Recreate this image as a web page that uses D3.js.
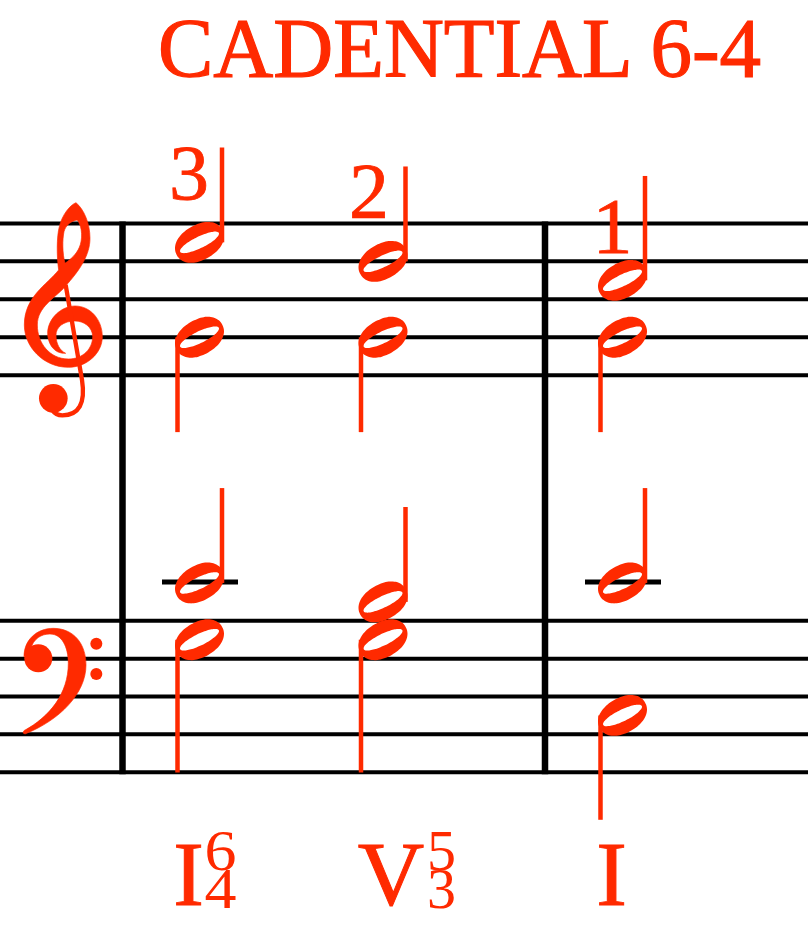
<!DOCTYPE html>
<html>
<head>
<meta charset="utf-8">
<title>Cadential 6-4</title>
<script src="https://cdnjs.cloudflare.com/ajax/libs/d3/7.8.5/d3.min.js"></script>
<style>
  html, body { margin: 0; padding: 0; background: #fff; }
  svg { display: block; }
  text { font-family: "Liberation Serif", serif; }
</style>
</head>
<body>
<div id="visualization"></div>
<script>
////////////////////////////// DATA ////////////////////////////////////

const titleText = "CADENTIAL 6-4";
const chords = ["I64", "V53", "I"];

// Pitches of the four voices, one per chord
const soprano = ["E5", "D5", "C5"];
const alto = ["G4", "G4", "G4"];
const tenor = ["C4", "B3", "C4"];
const bass = ["G3", "G3", "C3"];

// Stem lengths in staff steps, as engraved
const sopranoStems = [5, 5, 5.5];
const altoStems = [5, 5, 5];
const tenorStems = [5, 5, 5];
const bassStems = [7, 7, 5.5];

const melodyDegrees = ["3", "2", "1"];
const romanNumerals = ["I", "V", "I"];
const upperFigures = ["6", "5", ""];
const lowerFigures = ["4", "3", ""];

////////////////////////////// SET UP ////////////////////////////////////

const width = 808;
const height = 948;
const red = "#ff2a00";

const svg = d3
  .select("#visualization")
  .append("svg")
  .attr("width", width)
  .attr("height", height)
  .attr("viewBox", `0 0 ${width} ${height}`);

// Diatonic number of a pitch name such as "E5"
const stepNames = "CDEFGAB";
const diatonic = (p) => stepNames.indexOf(p[0]) + 7 * +p[1];

// Scales
const x = d3.scaleOrdinal().domain(chords).range([199.5, 383, 622.5]);
const trebleY = d3
  .scaleLinear()
  .domain([diatonic("E4"), diatonic("F5")])
  .range([375.2, 223.4]);
const bassY = d3
  .scaleLinear()
  .domain([diatonic("G2"), diatonic("A3")])
  .range([772.2, 620.8]);

const trebleLines = ["E4", "G4", "B4", "D5", "F5"];
const bassLines = ["G2", "B2", "D3", "F3", "A3"];

////////////////////////////// STAVES ////////////////////////////////////

const staffLines = [
  ...trebleLines.map((p) => trebleY(diatonic(p))),
  ...bassLines.map((p) => bassY(diatonic(p))),
];

svg
  .selectAll(".staff-line")
  .data(staffLines)
  .join("line")
  .attr("class", "staff-line")
  .attr("x1", 0)
  .attr("x2", width)
  .attr("y1", (d) => d)
  .attr("y2", (d) => d)
  .attr("stroke", "#000")
  .attr("stroke-width", 4);

svg
  .selectAll(".barline")
  .data([122.5, 545])
  .join("line")
  .attr("class", "barline")
  .attr("x1", (d) => d)
  .attr("x2", (d) => d)
  .attr("y1", trebleY(diatonic("F5")) - 2)
  .attr("y2", bassY(diatonic("G2")) + 2)
  .attr("stroke", "#000")
  .attr("stroke-width", 6.5);

// Ledger lines for the middle C in the bass staff
svg
  .selectAll(".ledger")
  .data(chords.filter((c, i) => tenor[i] === "C4"))
  .join("line")
  .attr("class", "ledger")
  .attr("x1", (d) => x(d) - 37.5)
  .attr("x2", (d) => x(d) + 38.5)
  .attr("y1", bassY(diatonic("C4")) - 1)
  .attr("y2", bassY(diatonic("C4")) - 1)
  .attr("stroke", "#000")
  .attr("stroke-width", 5);

////////////////////////////// CLEFS ////////////////////////////////////

const treble = svg
  .append("g")
  .attr("transform", "translate(0,190) scale(0.3333)")
  .attr("fill", red);

treble
  .append("path")
  .attr("fill-rule", "evenodd")
  .attr("stroke", red)
  .attr("stroke-width", 2)
  .attr(
    "d",
    "M228,38 C252,58 270,100 270,145 C270,195 240,240 195,290 C165,325 112,350 112,405 " +
      "C112,460 150,507 205,507 C250,507 278,475 278,440 C278,410 250,393 225,393 " +
      "C190,393 168,412 168,435 C168,462 180,482 197,490 C160,492 143,458 143,430 " +
      "C143,385 185,348 225,348 C272,348 307,390 307,440 C307,490 260,532 205,532 " +
      "C130,532 73,470 73,405 C73,320 140,285 176,240 C170,200 170,140 178,110 C186,75 210,45 228,38 Z " +
      "M232,90 C248,110 248,150 238,172 C230,192 212,208 195,220 C187,190 187,150 192,125 C197,105 215,92 232,90 Z"
  );
treble
  .append("path")
  .attr("fill", "none")
  .attr("stroke", red)
  .attr("stroke-width", 13)
  .attr("d", "M197,285 L246,570 C257,640 237,676 187,676 C172,676 162,668 157,660");
treble.append("circle").attr("cx", 160).attr("cy", 625).attr("r", 43);

const bassClef = svg
  .append("g")
  .attr("transform", "translate(0,560) scale(0.3333)")
  .attr("fill", red);

bassClef
  .append("path")
  .attr("stroke", red)
  .attr("stroke-width", 2)
  .attr(
    "d",
    "M72,512 C150,470 205,400 205,310 C205,260 185,222 150,222 C125,222 100,235 92,268 " +
      "L72,290 C72,240 110,205 160,205 C220,205 258,250 258,315 C258,400 180,480 75,522 Q65,520 72,512 Z"
  );
bassClef.append("circle").attr("cx", 115).attr("cy", 295).attr("r", 42);
bassClef.append("circle").attr("cx", 289).attr("cy", 251).attr("r", 18);
bassClef.append("circle").attr("cx", 289).attr("cy", 342).attr("r", 18);

////////////////////////////// NOTES ////////////////////////////////////

const stepSize = trebleY(0) - trebleY(1);

// Rounded-off ellipse outline, tilted like an engraved half note head
function headOutline(a, b, n, angle) {
  const t = (angle * Math.PI) / 180;
  const pts = d3.range(0, 2 * Math.PI, Math.PI / 24).map((u) => {
    const c = Math.cos(u);
    const s = Math.sin(u);
    const px = a * Math.sign(c) * Math.pow(Math.abs(c), 2 / n);
    const py = b * Math.sign(s) * Math.pow(Math.abs(s), 2 / n);
    return [px * Math.cos(t) + py * Math.sin(t), -px * Math.sin(t) + py * Math.cos(t)];
  });
  return d3.line().curve(d3.curveCardinalClosed)(pts);
}
const headPath = headOutline(26, 17.5, 2.15, 30) + " " + headOutline(21.5, 5.8, 2, 26);

const voices = [
  { pitches: soprano, stems: sopranoStems, y: trebleY, up: true },
  { pitches: alto, stems: altoStems, y: trebleY, up: false },
  { pitches: tenor, stems: tenorStems, y: bassY, up: true },
  { pitches: bass, stems: bassStems, y: bassY, up: false },
];

const notes = voices.flatMap((v) =>
  chords.map((c, i) => ({
    chord: c,
    ny: v.y(diatonic(v.pitches[i])),
    stem: v.stems[i],
    up: v.up,
  }))
);

svg
  .selectAll(".stem")
  .data(notes)
  .join("line")
  .attr("class", "stem")
  .attr("x1", (d) => x(d.chord) + (d.up ? 22.5 : -22))
  .attr("x2", (d) => x(d.chord) + (d.up ? 22.5 : -22))
  .attr("y1", (d) => d.ny)
  .attr("y2", (d) => d.ny + (d.up ? -1 : 1) * d.stem * stepSize)
  .attr("stroke", red)
  .attr("stroke-width", 4.5);

svg
  .selectAll(".head")
  .data(notes)
  .join("path")
  .attr("class", "head")
  .attr("transform", (d) => `translate(${x(d.chord)},${d.ny})`)
  .attr("fill", red)
  .attr("fill-rule", "evenodd")
  .attr("d", headPath);

////////////////////////////// TEXT ////////////////////////////////////

svg
  .append("text")
  .attr("x", 158)
  .attr("y", 77)
  .attr("font-size", 84)
  .attr("fill", red)
  .attr("stroke", red)
  .attr("stroke-width", 1.2)
  .attr("textLength", 603)
  .attr("lengthAdjust", "spacingAndGlyphs")
  .text(titleText);

// Melodic scale degrees sit left of the soprano stems, each at its own height
const degreeShiftX = [-10.5, -14, -10];
const degreeShiftY = [-43, -44.5, -28];

svg
  .selectAll(".degree")
  .data(chords)
  .join("text")
  .attr("class", "degree")
  .attr("x", (d, i) => x(d) + degreeShiftX[i] - 20)
  .attr("y", (d, i) => trebleY(diatonic(soprano[i])) + degreeShiftY[i])
  .attr("font-size", 78)
  .attr("fill", red)
  .attr("stroke", red)
  .attr("stroke-width", 0.8)
  .attr("textLength", 40)
  .attr("lengthAdjust", "spacingAndGlyphs")
  .text((d, i) => melodyDegrees[i]);

svg
  .selectAll(".roman")
  .data(chords)
  .join("text")
  .attr("class", "roman")
  .attr("x", (d, i) => x(d) + (romanNumerals[i] === "V" ? 8 : -11))
  .attr("y", 905)
  .attr("text-anchor", "middle")
  .attr("font-size", 92)
  .attr("fill", red)
  .attr("stroke", red)
  .attr("stroke-width", 1)
  .text((d, i) => romanNumerals[i]);

svg
  .selectAll(".fig-upper")
  .data(chords)
  .join("text")
  .attr("class", "fig-upper")
  .attr("x", (d) => x(d) + (d === "V53" ? 44 : 5))
  .attr("y", 870)
  .attr("font-size", 56)
  .attr("fill", red)
  .attr("textLength", (d, i) => (upperFigures[i] ? (d === "V53" ? 29 : 32) : null))
  .attr("lengthAdjust", "spacingAndGlyphs")
  .text((d, i) => upperFigures[i]);

svg
  .selectAll(".fig-lower")
  .data(chords)
  .join("text")
  .attr("class", "fig-lower")
  .attr("x", (d) => x(d) + (d === "V53" ? 44 : 5))
  .attr("y", 908)
  .attr("font-size", 56)
  .attr("fill", red)
  .attr("textLength", (d, i) => (lowerFigures[i] ? (d === "V53" ? 29 : 32) : null))
  .attr("lengthAdjust", "spacingAndGlyphs")
  .text((d, i) => lowerFigures[i]);
</script>
</body>
</html>
